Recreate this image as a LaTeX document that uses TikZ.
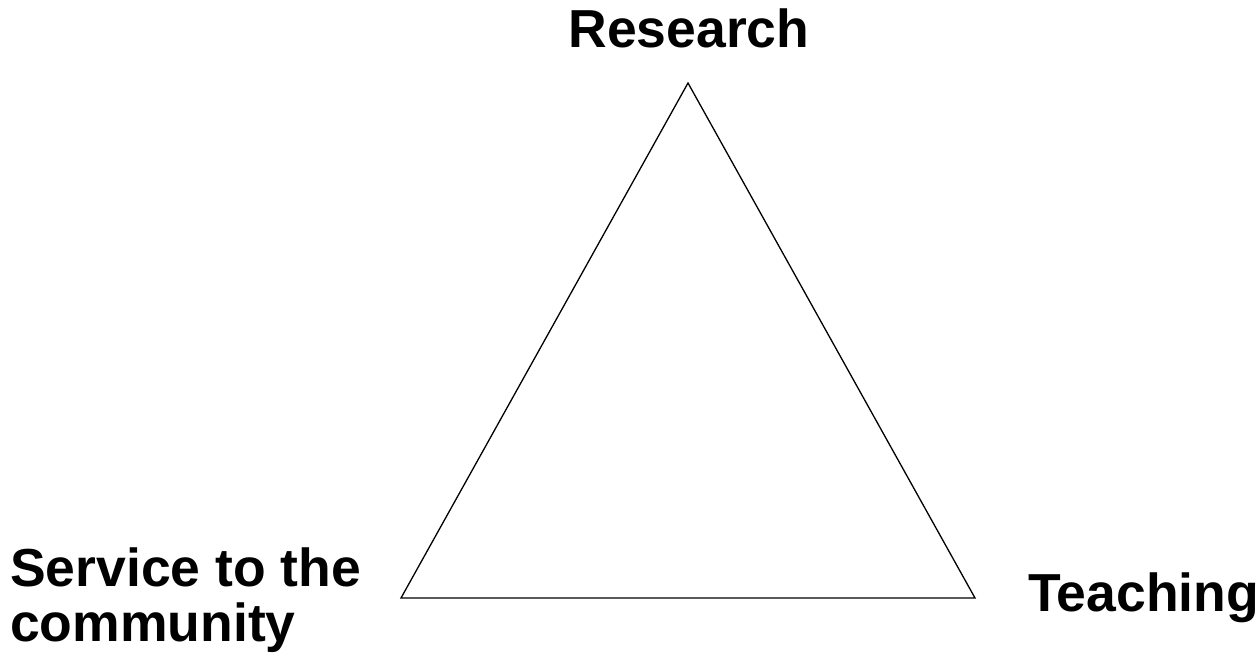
\documentclass[tikz,border=0pt]{standalone}
\usepackage{fontspec}
\setmainfont{Liberation Sans}
\begin{document}
\begin{tikzpicture}[x=1pt,y=-1pt,
  lbl/.style={font=\fontsize{53.5}{55}\selectfont\bfseries, inner sep=0pt, text=black},
  edge/.style={draw=black, line width=1.3pt, line join=miter}]
\useasboundingbox (0,0) rectangle (1260,660);
\fill[white] (0,0) rectangle (1260,660);
\coordinate (top) at (688,83);
\coordinate (bl) at (401,598);
\coordinate (br) at (975,598);
\draw[edge] (top) -- (br) -- (bl) -- cycle;
\node[lbl, anchor=base] (research) at (689,48) {Research};
\node[lbl, anchor=base west] (teaching) at (1028,611) {Teaching};
\node[lbl, anchor=north west, align=left] (service) at (10,548) {Service to the\\community};
\end{tikzpicture}
\end{document}
